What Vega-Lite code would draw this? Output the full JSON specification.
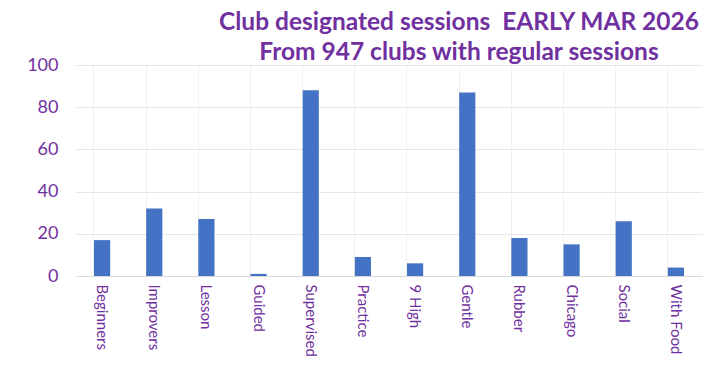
{
  "$schema": "https://vega.github.io/schema/vega-lite/v6.json",
  "width": 626,
  "height": 211,
  "autosize": {"type": "none"},
  "padding": {"left": 76, "top": 65, "right": 2, "bottom": 89},
  "background": "white",
  "title": {
    "text": ["Club designated sessions\u00a0\u00a0EARLY MAR 2026", "From 947 clubs with regular sessions"],
    "font": "Lato",
    "fontSize": 24.5,
    "fontWeight": "bold",
    "color": "#7030A0",
    "anchor": "middle",
    "frame": "group",
    "dx": 70,
    "lineHeight": 30,
    "offset": -9
  },
  "data": {
    "values": [
      {"category": "Beginners", "value": 17},
      {"category": "Improvers", "value": 32},
      {"category": "Lesson", "value": 27},
      {"category": "Guided", "value": 1},
      {"category": "Supervised", "value": 88},
      {"category": "Practice", "value": 9},
      {"category": "9 High", "value": 6},
      {"category": "Gentle", "value": 87},
      {"category": "Rubber", "value": 18},
      {"category": "Chicago", "value": 15},
      {"category": "Social", "value": 26},
      {"category": "With Food", "value": 4}
    ]
  },
  "mark": {"type": "bar", "color": "#4472C4"},
  "encoding": {
    "x": {
      "field": "category",
      "type": "nominal",
      "sort": null,
      "scale": {"paddingInner": 0.69, "paddingOuter": 0.345},
      "axis": {
        "title": null,
        "labelAngle": 90,
        "labelAlign": "left",
        "labelBaseline": "middle",
        "labelColor": "#7030A0",
        "labelFont": "Lato",
        "labelFontSize": 15,
        "labelPadding": 8,
        "ticks": false,
        "domain": true,
        "domainColor": "#d9d9d9",
        "grid": true,
        "gridColor": "#f0f0f0",
        "bandPosition": 0
      }
    },
    "y": {
      "field": "value",
      "type": "quantitative",
      "scale": {"domain": [0, 100]},
      "axis": {
        "title": null,
        "values": [0, 20, 40, 60, 80, 100],
        "labelColor": "#7030A0",
        "labelFont": "Lato",
        "labelFontSize": 18,
        "labelPadding": 18,
        "ticks": false,
        "domain": false,
        "gridColor": "#e6e6e6"
      }
    }
  },
  "config": {"view": {"stroke": null}}
}
